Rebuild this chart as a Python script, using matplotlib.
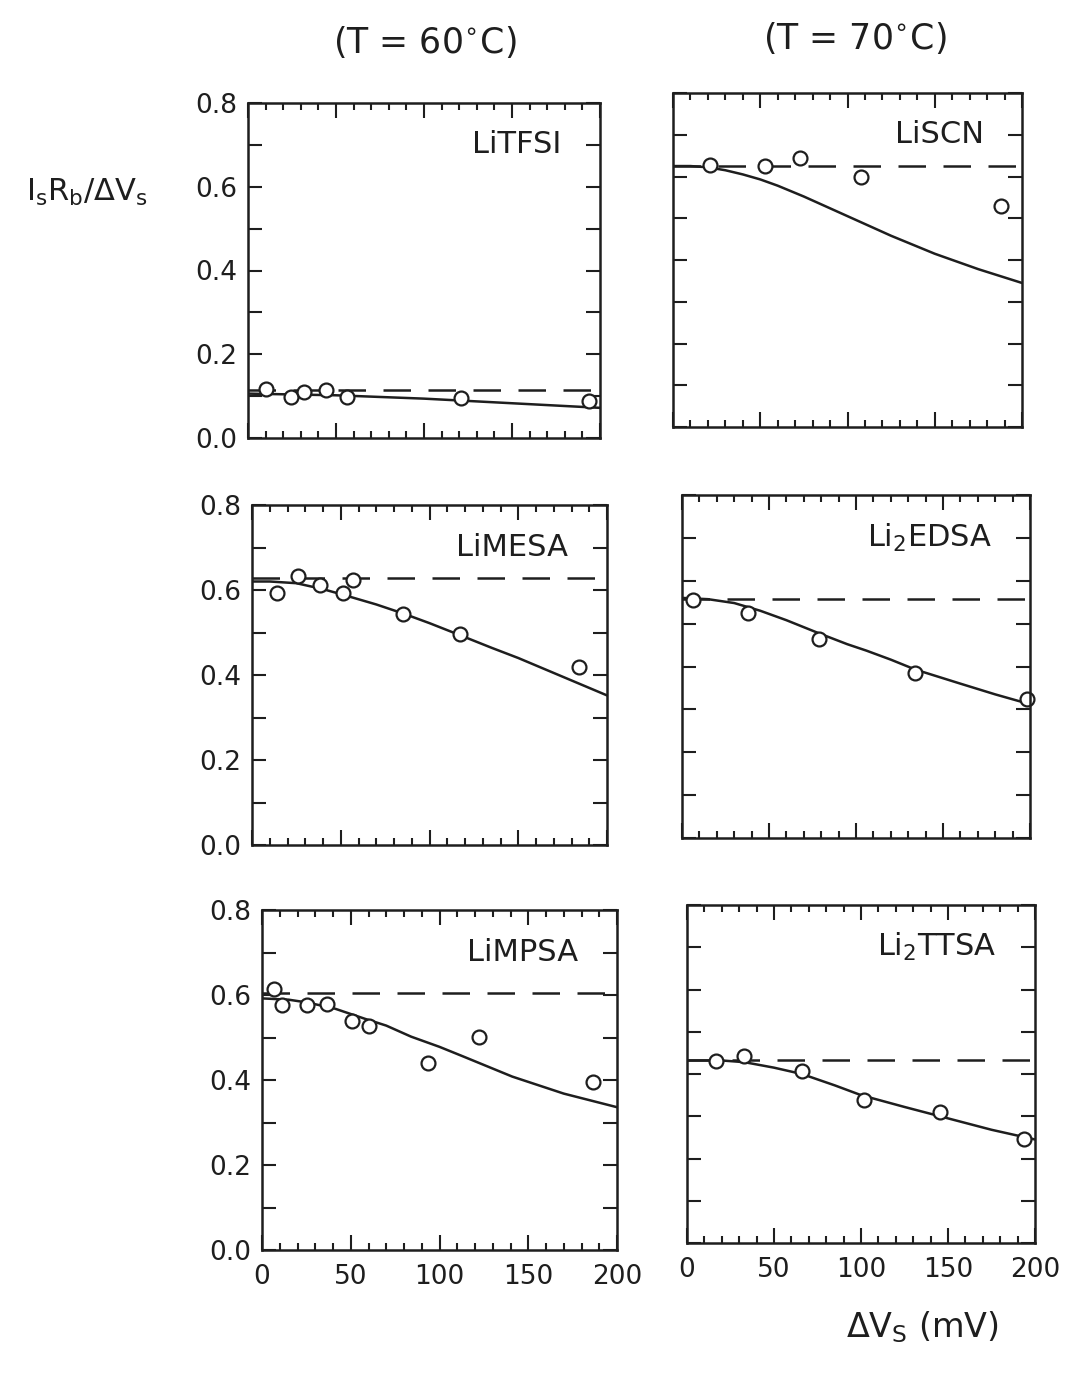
import matplotlib
matplotlib.use('Agg')
import matplotlib.pyplot as plt
from matplotlib.ticker import MultipleLocator

plt.rcParams['font.family'] = ['DejaVu Sans']
plt.rcParams['mathtext.default'] = 'regular'

# ---- data ----
names = ['LiTFSI', 'LiSCN', 'LiMESA', 'Li$_2$EDSA', 'LiMPSA', 'Li$_2$TTSA']

pts_x = [
    [10, 24.5, 32, 44.5, 56, 121, 194],
    [21, 53, 72.5, 108, 188],
    [14, 26, 38.5, 51.5, 57, 85, 117, 184],
    [6.5, 38, 78.5, 134, 198],
    [6.5, 11.5, 25.5, 36.5, 50.5, 60.5, 93.5, 122, 186.5],
    [16.5, 33, 66, 102, 145.5, 193.5],
]
pts_y = [
    [0.118, 0.098, 0.110, 0.114, 0.098, 0.096, 0.088],
    [0.628, 0.625, 0.645, 0.600, 0.530],
    [0.594, 0.632, 0.612, 0.594, 0.624, 0.544, 0.496, 0.420],
    [0.555, 0.525, 0.464, 0.386, 0.325],
    [0.614, 0.576, 0.576, 0.578, 0.538, 0.528, 0.440, 0.502, 0.396],
    [0.430, 0.443, 0.408, 0.339, 0.310, 0.246],
]

# plateau (dashed) levels
dash_level = [0.114, 0.625, 0.628, 0.558, 0.604, 0.432]

# fitted curves (solid), sampled by eye
curve_x = [
    [0, 50, 100, 150, 200],
    [0, 10, 20, 30, 40, 50, 60, 75, 100, 125, 150, 175, 200],
    [0, 10, 25, 40, 52, 70, 85, 100, 117, 135, 150, 175, 200],
    [0, 15, 30, 45, 60, 79, 95, 106, 120, 134, 160, 180, 200],
    [0, 15, 26, 41, 58, 70, 84, 100, 113, 141, 170, 200],
    [0, 20, 33, 50, 66, 85, 100, 125, 150, 175, 200],
]
curve_y = [
    [0.106, 0.102, 0.094, 0.083, 0.072],
    [0.625, 0.625, 0.622, 0.615, 0.605, 0.593, 0.578, 0.552, 0.505, 0.458, 0.415, 0.378, 0.345],
    [0.620, 0.620, 0.616, 0.602, 0.588, 0.566, 0.545, 0.522, 0.494, 0.464, 0.440, 0.396, 0.352],
    [0.560, 0.557, 0.548, 0.530, 0.508, 0.477, 0.452, 0.437, 0.416, 0.393, 0.360, 0.335, 0.312],
    [0.592, 0.589, 0.582, 0.568, 0.544, 0.528, 0.502, 0.478, 0.456, 0.408, 0.368, 0.336],
    [0.432, 0.432, 0.428, 0.415, 0.400, 0.373, 0.350, 0.322, 0.295, 0.268, 0.245],
]

# panel boxes in pixels: left, top, right, bottom
boxes = [
    (248, 103, 600, 438), (673, 93, 1022, 427),
    (252, 505, 607, 845), (682, 495, 1030, 838),
    (262, 910, 617, 1250), (687, 905, 1035, 1243),
]

ink = '#1e1e1e'
W, H = 1068, 1374
fig = plt.figure(figsize=(W / 100, H / 100), dpi=100)

for i in range(6):
    l, t, r, b = boxes[i]
    ax = fig.add_axes([l / W, 1 - b / H, (r - l) / W, (b - t) / H])
    ax.plot(curve_x[i], curve_y[i], '-', color=ink, lw=1.8)
    ax.plot([0, 200], [dash_level[i]] * 2, color=ink, lw=1.8,
            dashes=(11, 7))
    ax.plot(pts_x[i], pts_y[i], 'o', ms=10, mfc='white', mec=ink,
            mew=1.6, clip_on=False)
    ax.text(0.89, 0.875, names[i], transform=ax.transAxes, ha='right',
            va='center', fontsize=22, color=ink)

    ax.set_xlim(0, 200)
    ax.set_ylim(0, 0.8)
    ax.xaxis.set_major_locator(MultipleLocator(50))
    ax.xaxis.set_minor_locator(MultipleLocator(10))
    ax.yaxis.set_major_locator(MultipleLocator(0.2))
    ax.yaxis.set_minor_locator(MultipleLocator(0.1))
    ax.tick_params(which='both', direction='in', top=True, right=True,
                   width=1.5, colors=ink, labelsize=19)
    ax.tick_params(which='major', length=11)
    ax.tick_params(which='minor', length=5)
    ax.tick_params(axis='y', which='both', length=10, pad=8)
    for s in ax.spines.values():
        s.set_linewidth(1.8)
        s.set_color(ink)
    if i % 2 == 1:
        ax.set_yticklabels([])
    else:
        ax.set_yticklabels(['%.1f' % v for v in ax.get_yticks()])
    if i < 4:
        ax.set_xticklabels([])
    else:
        ax.tick_params(axis='x', pad=10)

fig.text(425 / W, 1 - 42 / H, '(T = 60$^{\\circ}$C)', ha='center',
         va='center', fontsize=25, color=ink)
fig.text(855 / W, 1 - 38 / H, '(T = 70$^{\\circ}$C)', ha='center',
         va='center', fontsize=25, color=ink)
fig.text(87 / W, 1 - 192 / H, 'I$_s$R$_b$/ΔV$_s$', ha='center',
         va='center', fontsize=22, color=ink)
fig.text(922 / W, 1 - 1327 / H, 'ΔV$_S$ (mV)', ha='center',
         va='center', fontsize=24, color=ink)

fig.savefig('out.png', dpi=100)
